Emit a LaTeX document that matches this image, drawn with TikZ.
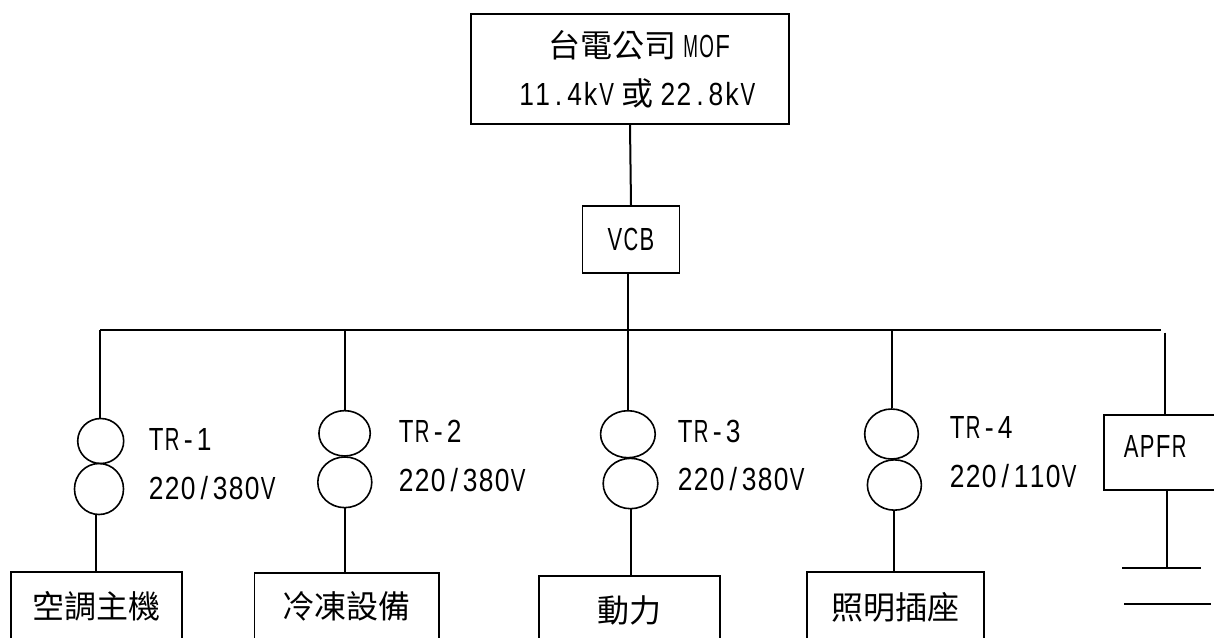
\documentclass[tikz,border=0pt]{standalone}
\usepackage{fontspec}
\setmainfont{Noto Sans CJK TC}
\newfontfamily\hwfont[FakeStretch=0.84]{Liberation Sans}
\usetikzlibrary{positioning, calc, shapes.geometric}
\tikzset{
    box/.style = {draw, rectangle, line width=1.4pt, inner sep=0pt, font=\fontsize{24pt}{28pt}\selectfont},
    coil/.style = {draw, ellipse, line width=1.2pt, inner sep=0pt},
    wire/.style = {line width=1.5pt},
    rating/.style = {anchor=west, inner sep=0pt, font=\fontsize{24pt}{28pt}\selectfont}
}
% half-width letters, one fixed cell for each
\newsavebox{\hwbox}
\makeatletter
\newcommand{\hw}[1]{{\hwfont\hw@next#1\relax}}
\def\hw@next#1{\ifx#1\relax\else\hw@cell{#1}\expandafter\hw@next\fi}
\newcommand{\hw@cell}[1]{\sbox{\hwbox}{#1}\ifdim\wd\hwbox>11pt
    \makebox[12pt]{\resizebox{11pt}{\ht\hwbox}{#1}}\else\makebox[12pt]{#1}\fi}
\makeatother

\begin{document}
\begin{tikzpicture}[x=0.75pt, y=-0.75pt]
    \clip (0,0) rectangle (1214,637);
    \useasboundingbox (0,0) rectangle (1214,637);

    % supply and breaker
    \node[box, minimum width=238.5pt, minimum height=82.5pt, align=center] (mof) at (630,69)
    {\raisebox{-2pt}{\hspace*{14pt}台電公司\hspace{5pt}\hw{MOF}}\\[8pt]\raisebox{-2pt}{\hspace*{11pt}\hw{11.4kV}\hspace{5pt}或\hspace{5pt}\hw{22.8kV}}};
    \node[box, minimum width=72.75pt, minimum height=50.25pt] (vcb) at (631,239.5) {\hw{VCB}\hspace{6pt}};
    \draw[wire] (mof.south) -- (vcb.north);

    % bus
    \coordinate (busL) at (100,330);
    \coordinate (busR) at (1161,330);
    \coordinate (busM) at (628,330);
    \draw[line width=1.5pt] (busL) -- (busR);
    \draw[wire] (vcb.south -| busM) -- (busM);

    % transformers
    \node[coil, minimum width=34.5pt, minimum height=33.75pt] (tr1a) at (100.7,441) {};
    \node[coil, minimum width=36.75pt, minimum height=38.25pt] (tr1b) at (99,489) {};
    \node[coil, minimum width=38.5pt, minimum height=34pt] (tr2a) at (344.6,433.3) {};
    \node[coil, minimum width=40.5pt, minimum height=38pt] (tr2b) at (344.8,482.3) {};
    \node[coil, minimum width=41pt, minimum height=35.25pt] (tr3a) at (627.9,434.2) {};
    \node[coil, minimum width=41pt, minimum height=37.75pt] (tr3b) at (630.5,483.5) {};
    \node[coil, minimum width=40.25pt, minimum height=37.5pt] (tr4a) at (891.5,434) {};
    \node[coil, minimum width=40.5pt, minimum height=37.75pt] (tr4b) at (894.4,485) {};

    % transformer labels
    \node[rating] (name1) at (148,439.3) {\hw{TR-1}};
    \node[rating] (volt1) at (148,488) {\hw{220/380V}};
    \node[rating] (name2) at (398,431.7) {\hw{TR-2}};
    \node[rating] (volt2) at (398,480) {\hw{220/380V}};
    \node[rating] (name3) at (677,431) {\hw{TR-3}};
    \node[rating] (volt3) at (677,479.3) {\hw{220/380V}};
    \node[rating] (name4) at (949,427.3) {\hw{TR-4}};
    \node[rating] (volt4) at (949,476) {\hw{220/110V}};

    % loads, cut off by the page edge
    \node[box, minimum width=128.5pt, minimum height=52pt] (load1) at (96.3,606.7) {空調主機};
    \node[box, minimum width=138.5pt, minimum height=50.25pt] (load2) at (346.8,606.7) {冷凍設備\hspace{11.7pt}};
    \node[box, minimum width=136pt, minimum height=51pt] (load3) at (629.5,610) {動力};
    \node[box, minimum width=132.5pt, minimum height=52pt] (load4) at (895.3,607) {\raisebox{1.5pt}{照明插座}\hspace{5.7pt}};

    % branches
    \draw[wire] (busL) -- (busL |- tr1a.north);
    \draw[wire] (busL -| tr2a.north) -- (tr2a.north);
    \draw[wire] (busM) -- (busM |- tr3a.north);
    \draw[wire] (busM -| tr4a.north) -- (tr4a.north);
    \draw[wire] (tr1b.south -| load1.north) -- (load1.north);
    \draw[wire] (tr2b.south) -- (tr2b.south |- load2.north);
    \draw[wire] (tr3b.south) -- (tr3b.south |- load3.north);
    \draw[wire] (tr4b.south) -- (tr4b.south |- load4.north);

    % power factor relay and capacitor
    \node[box, anchor=north west, minimum width=105pt, minimum height=56.25pt] (apfr) at (1103.3,413.7) {};
    \node[rating] (apfrtxt) at (1123,446.7) {\hw{APFR}};
    \coordinate (capA) at (1122,568.3);
    \coordinate (capB) at (1200.6,568.3);
    \coordinate (capC) at (1124,603.7);
    \coordinate (capD) at (1210.6,603.7);
    \coordinate (apfrT) at (1164.8,332.7);
    \coordinate (capM) at (1167,568.3);
    \draw[wire] (apfrT) -- (apfrT |- apfr.north);
    \draw[wire] (capM |- apfr.south) -- (capM);
    \draw[wire] (capA) -- (capB);
    \draw[wire] (capC) -- (capD);
\end{tikzpicture}
\end{document}
